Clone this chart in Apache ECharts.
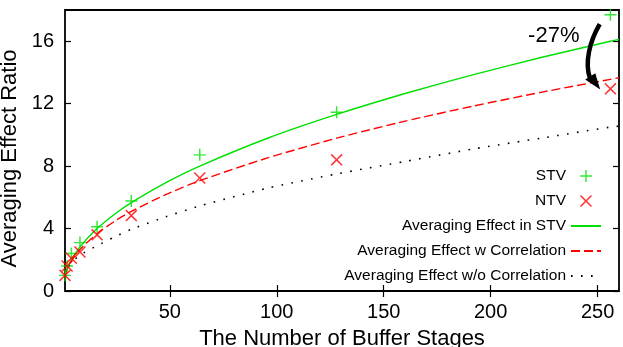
<!DOCTYPE html>
<html>
<head>
<meta charset="utf-8">
<script src="https://cdn.jsdelivr.net/npm/echarts@6/dist/echarts.min.js"></script>
<style>
  html, body { margin: 0; padding: 0; background: #fff; }
  #main { width: 623px; height: 347px; }
</style>
</head>
<body>
<div id="main"></div>
<script>
// measured points (buffer stages are powers of two)
var stages = [1, 2, 4, 8, 16, 32, 64, 128, 256]
var stvRatio = [1.0, 1.6, 2.4, 3.1, 4.12, 5.77, 8.72, 11.45, 17.7]
var ntvRatio = [1.0, 1.6, 2.1, 2.5, 3.6, 4.83, 7.24, 8.4, 12.95]

// model curves
var curveStages = [1, 2, 4, 8, 16, 24, 32, 48, 64, 96, 128, 160, 192, 224, 256, 260]
var stvCurve = [1.0, 1.41, 2.0, 2.83, 4.0, 4.9, 5.66, 6.93, 8.0, 9.8, 11.31, 12.65, 13.86, 14.97, 16.0, 16.12]
var corrCurve = [1.0, 1.39, 1.92, 2.66, 3.68, 4.45, 5.1, 6.17, 7.07, 8.54, 9.79, 10.88, 11.85, 12.74, 13.56, 13.66]
var noCorrCurve = [1.0, 1.35, 1.8, 2.3, 2.9, 3.45, 3.95, 4.75, 5.45, 6.6, 7.5, 8.3, 9.1, 9.8, 10.5, 10.56]

var xTicks = [50, 100, 150, 200, 250]
var yTicks = [0, 4, 8, 12, 16]

// annotation: "-27%" and the curved arrow, in data coordinates
var noteText = '-27%'
var notePos = [217.5, 16.35]
var arrowCurve = [[251.0, 17.1], [246.5, 16.05], [243.7, 14.65], [246.5, 13.6]]
var arrowHead = [[244.2, 13.55], [248.9, 13.95], [251.2, 12.9]]

var green = '#00e000'
var red = '#ff0000'
var plusPath = 'path://M44,0H56V44H100V56H56V100H44V56H0V44H44Z'
var crossPath = 'path://M0,9L9,0L50,41L91,0L100,9L59,50L100,91L91,100L50,59L9,100L0,91L41,50Z'

function pairs (xs, ys) {
  return xs.map(function (x, i) { return [x, ys[i]] })
}

var chart = echarts.init(document.getElementById('main'))

var xBase = {
  type: 'value',
  min: 1,
  max: 260,
  splitLine: {show: false},
  axisLine: {show: false},
  axisTick: {show: true, inside: true, length: 6, customValues: xTicks, lineStyle: {color: '#000', width: 1.2}},
  axisLabel: {customValues: xTicks, color: '#000', fontSize: 20, margin: 11}
}
var yBase = {
  type: 'value',
  min: 0,
  max: 18,
  splitLine: {show: false},
  axisLine: {show: false},
  axisTick: {show: true, inside: true, length: 6, customValues: yTicks, lineStyle: {color: '#000', width: 1.2}},
  axisLabel: {customValues: yTicks, color: '#000', fontSize: 20, margin: 11}
}

var hideSymbol = {opacity: 0}

chart.setOption({
  backgroundColor: '#fff',
  animation: false,
  textStyle: {fontFamily: 'Liberation Sans, Arial, sans-serif'},
  grid: {
    left: 65,
    right: 4,
    top: 10,
    bottom: 56,
    outerBoundsMode: 'none',
    containLabel: false,
    show: true,
    borderColor: '#000',
    borderWidth: 1.8,
    backgroundColor: 'transparent'
  },
  legend: {
    orient: 'vertical',
    right: 16,
    top: 163,
    align: 'right',
    itemWidth: 30,
    itemHeight: 12,
    itemGap: 9,
    textStyle: {fontSize: 15.5, color: '#000', lineHeight: 16},
    data: [
      'STV',
      'NTV',
      {name: 'Averaging Effect in STV', itemStyle: hideSymbol},
      {name: 'Averaging Effect w Correlation', itemStyle: hideSymbol},
      {name: 'Averaging Effect w/o Correlation', itemStyle: hideSymbol}
    ]
  },
  xAxis: [
    Object.assign({}, xBase, {
      position: 'bottom',
      name: 'The Number of Buffer Stages',
      nameLocation: 'middle',
      nameGap: 37,
      nameTextStyle: {fontSize: 22, color: '#000'}
    }),
    Object.assign({}, xBase, {position: 'top', axisLabel: {show: false}})
  ],
  yAxis: [
    Object.assign({}, yBase, {
      position: 'left',
      name: 'Averaging Effect Ratio',
      nameLocation: 'middle',
      nameGap: 32,
      nameTextStyle: {fontSize: 22, color: '#000', padding: [0, 16, 0, 0]}
    }),
    Object.assign({}, yBase, {position: 'right', axisLabel: {show: false}})
  ],
  series: [
    {
      name: 'STV',
      type: 'scatter',
      symbol: plusPath,
      symbolSize: 12,
      itemStyle: {color: green},
      data: pairs(stages, stvRatio),
      z: 5
    },
    {
      name: 'NTV',
      type: 'scatter',
      symbol: crossPath,
      symbolSize: 12,
      itemStyle: {color: red},
      data: pairs(stages, ntvRatio),
      z: 5
    },
    {
      name: 'Averaging Effect in STV',
      type: 'line',
      smooth: 0.2,
      showSymbol: false,
      lineStyle: {color: green, width: 1.4},
      itemStyle: {color: green},
      data: pairs(curveStages, stvCurve)
    },
    {
      name: 'Averaging Effect w Correlation',
      type: 'line',
      smooth: 0.2,
      showSymbol: false,
      lineStyle: {color: red, width: 1.4, type: [9, 4]},
      itemStyle: {color: red},
      data: pairs(curveStages, corrCurve)
    },
    {
      name: 'Averaging Effect w/o Correlation',
      type: 'line',
      smooth: 0.2,
      showSymbol: false,
      lineStyle: {color: '#000', width: 1.6, type: [1.6, 8.4]},
      itemStyle: {color: '#000'},
      data: pairs(curveStages, noCorrCurve)
    }
  ]
})

// place the annotation once the axes exist
function px (p) {
  return chart.convertToPixel({xAxisIndex: 0, yAxisIndex: 0}, p)
}
var c = arrowCurve.map(px)
var t = px(notePos)
chart.setOption({
  graphic: [
    {
      type: 'text',
      x: t[0],
      y: t[1],
      style: {text: noteText, fill: '#000', font: '22px Liberation Sans, Arial, sans-serif', textAlign: 'left', textVerticalAlign: 'middle'},
      z: 10
    },
    {
      type: 'bezierCurve',
      shape: {x1: c[0][0], y1: c[0][1], cpx1: c[1][0], cpy1: c[1][1], cpx2: c[2][0], cpy2: c[2][1], x2: c[3][0], y2: c[3][1]},
      style: {stroke: '#000', lineWidth: 4.5, fill: null},
      z: 10
    },
    {
      type: 'polygon',
      shape: {points: arrowHead.map(px)},
      style: {fill: '#000'},
      z: 10
    }
  ]
})

window.onresize = chart.resize
</script>
</body>
</html>
